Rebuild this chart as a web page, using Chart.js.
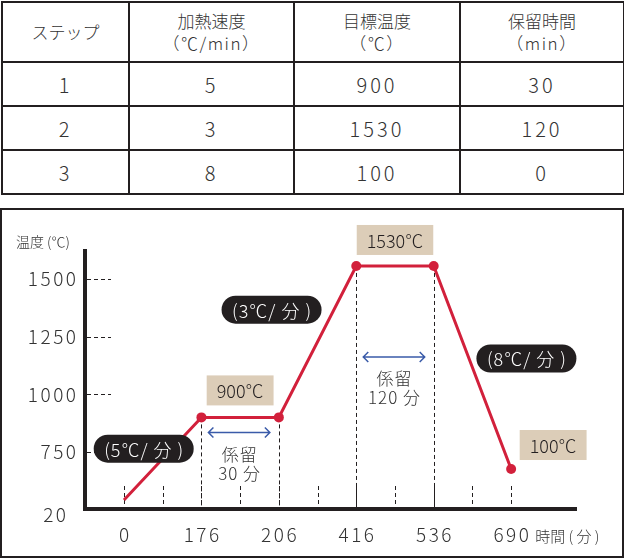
<!DOCTYPE html>
<html lang="ja">
<head>
<meta charset="utf-8">
<script src="https://cdn.jsdelivr.net/npm/chart.js@4.4.1/dist/chart.umd.min.js"></script>
<style>
  body { margin: 0; background: #fff; font-family: 'Noto Sans CJK JP', 'Noto Sans', sans-serif; font-weight: 300; color: #333; }
  #steps { position: absolute; left: 1px; top: 1px; border-collapse: collapse; table-layout: fixed; width: 622px; }
  #steps td { border: 2px solid #231f20; text-align: center; padding: 0; }
  #steps tr.head td { height: 58px; font-size: 17px; line-height: 22px; }
  #steps tr.head span { letter-spacing: 1.5px; }
  #steps tr.row td { height: 42px; font-size: 20px; letter-spacing: 3px; }
  #box { position: absolute; left: 0; top: 208px; width: 620px; height: 346px; border: 2px solid #231f20; }
  #wrap { position: absolute; left: 0; top: 200px; width: 624px; height: 358px; }
</style>
</head>
<body>
<table id="steps">
  <colgroup><col style="width:127px"><col style="width:165px"><col style="width:166px"><col style="width:164px"></colgroup>
  <tbody id="steps-body"></tbody>
</table>
<div id="box"></div>
<div id="wrap"><canvas id="canvas" width="624" height="358"></canvas></div>
<script>
'use strict';

// table data
var headers = [['ステップ'], ['加熱速度', '（℃/min）'], ['目標温度', '（℃）'], ['保留時間', '（min）']];
var stepNo = [1, 2, 3];
var heatRate = [5, 3, 8];
var targetTemp = [900, 1530, 100];
var holdTime = [30, 120, 0];

// chart data
var times = [0, 176, 206, 416, 536, 690];
var temps = [20, 900, 900, 1530, 1530, 100];
var yTicks = [20, 750, 1000, 1250, 1500];
var rateLabels = ['(5℃/ 分 )', '(3℃/ 分 )', '(8℃/ 分 )'];
var tempLabels = ['900℃', '1530℃', '100℃'];
var holdLabels = ['30 分', '120 分'];

var body = document.getElementById('steps-body');
var tr = document.createElement('tr');
tr.className = 'head';
headers.forEach(function (h) {
  var td = document.createElement('td');
  td.appendChild(document.createTextNode(h[0]));
  if (h[1]) {
    td.appendChild(document.createElement('br'));
    var sp = document.createElement('span');
    sp.textContent = h[1];
    td.appendChild(sp);
  }
  tr.appendChild(td);
});
body.appendChild(tr);
for (var r = 0; r < stepNo.length; r++) {
  tr = document.createElement('tr');
  tr.className = 'row';
  [stepNo[r], heatRate[r], targetTemp[r], holdTime[r]].forEach(function (v) {
    var td = document.createElement('td');
    td.textContent = v;
    tr.appendChild(td);
  });
  body.appendChild(tr);
}

// piecewise scale: the drawing is schematic, not to scale
function toFrac(stops, fracs, v) {
  var i = 0;
  while (i < stops.length - 2 && v > stops[i + 1]) i++;
  return fracs[i] + (v - stops[i]) / (stops[i + 1] - stops[i]) * (fracs[i + 1] - fracs[i]);
}
function fromFrac(stops, fracs, f) {
  var i = 0;
  while (i < fracs.length - 2 && f > fracs[i + 1]) i++;
  return stops[i] + (f - fracs[i]) / (fracs[i + 1] - fracs[i]) * (stops[i + 1] - stops[i]);
}

class StepScale extends Chart.LinearScale {
  getPixelForValue(value) {
    return this.getPixelForDecimal(toFrac(this.options.stops, this.options.fracs, value));
  }
  getValueForPixel(pixel) {
    return fromFrac(this.options.stops, this.options.fracs, this.getDecimalForPixel(pixel));
  }
}
StepScale.id = 'step';
StepScale.defaults = Chart.LinearScale.defaults;
Chart.register(StepScale);

var INK = '#231f20';
var TEXT = '#333';
var RED = '#d2203b';
var BLUE = '#3a5ba9';
var BEIGE = '#dccdb8';
var FONT = '"Noto Sans CJK JP", "Noto Sans", sans-serif';

// label offsets from the segment middle / hold middle
var pillOffset = [[-19, -10], [-46, -32], [54, -9]];
var tempOffset = [[0, -27], [0, -26], [42, -24]];
var arrowDrop = [15, 91];

function txt(ctx, s, x, y, size, color, align, spacing) {
  ctx.font = '300 ' + size + 'px ' + FONT;
  ctx.fillStyle = color;
  ctx.textAlign = align || 'center';
  ctx.textBaseline = 'middle';
  ctx.letterSpacing = (spacing || 0) + 'px';
  var shift = align === 'right' ? spacing || 0 : (spacing || 0) / 2;
  ctx.fillText(s, x + (align === 'left' ? 0 : shift), y);
  ctx.letterSpacing = '0px';
}

function holdPairs() {
  var pairs = [];
  for (var i = 0; i < temps.length - 1; i++) {
    if (temps[i] === temps[i + 1]) pairs.push(i);
  }
  return pairs;
}

var overlay = {
  id: 'overlay',
  beforeDatasetsDraw: function (chart) {
    var ctx = chart.ctx, x = chart.scales.x, y = chart.scales.y, area = chart.chartArea;
    ctx.save();
    ctx.strokeStyle = INK;
    ctx.lineWidth = 1;
    ctx.setLineDash([4, 3]);
    function line(x1, y1, x2, y2) {
      ctx.beginPath(); ctx.moveTo(x1, y1); ctx.lineTo(x2, y2); ctx.stroke();
    }
    yTicks.slice(1).forEach(function (v) {
      var py = Math.round(y.getPixelForValue(v)) + 0.5;
      line(area.left + 2, py, area.left + 26, py);
    });
    for (var i = 0; i < times.length; i++) {
      var px = Math.round(x.getPixelForValue(times[i])) + 0.5;
      line(px, area.bottom - 23, px, area.bottom - 2);
      if (i < times.length - 1) {
        var mx = Math.round(x.getPixelForValue((times[i] + times[i + 1]) / 2)) + 0.5;
        line(mx, area.bottom - 23, mx, area.bottom - 2);
      }
    }
    holdPairs().forEach(function (i) {
      [i, i + 1].forEach(function (k) {
        var px = Math.round(x.getPixelForValue(times[k])) + 0.5;
        line(px, y.getPixelForValue(temps[k]), px, area.bottom - 2);
      });
    });
    ctx.restore();
  },
  afterDatasetsDraw: function (chart) {
    var ctx = chart.ctx, x = chart.scales.x, y = chart.scales.y, area = chart.chartArea;
    ctx.save();

    // axis titles and tick labels
    txt(ctx, '温度 (℃)', 16, area.top - 9, 14, TEXT, 'left', 0);
    yTicks.forEach(function (v, i) {
      if (i === 0) {
        txt(ctx, String(v), area.left - 19, area.bottom + 6, 19, TEXT, 'right', 2.5);
      } else {
        txt(ctx, String(v), area.left - 9, y.getPixelForValue(v), 19, TEXT, 'right', 2.5);
      }
    });
    times.forEach(function (t) {
      txt(ctx, String(t), x.getPixelForValue(t), area.bottom + 26, 19, TEXT, 'center', 2.5);
    });
    var lastX = x.getPixelForValue(times[times.length - 1]);
    txt(ctx, '時間 ( 分 )', lastX + 24, area.bottom + 27, 15, TEXT, 'left', 0);

    // hold arrows and texts
    holdPairs().forEach(function (i, n) {
      var x1 = x.getPixelForValue(times[i]) + 7;
      var x2 = x.getPixelForValue(times[i + 1]) - 9;
      var ay = y.getPixelForValue(temps[i]) + arrowDrop[n];
      ctx.strokeStyle = BLUE;
      ctx.lineWidth = 1.5;
      ctx.beginPath();
      ctx.moveTo(x1 + 5, ay - 5); ctx.lineTo(x1, ay); ctx.lineTo(x1 + 5, ay + 5);
      ctx.moveTo(x1, ay); ctx.lineTo(x2, ay);
      ctx.moveTo(x2 - 5, ay - 5); ctx.lineTo(x2, ay); ctx.lineTo(x2 - 5, ay + 5);
      ctx.stroke();
      var cx = (x1 + x2) / 2;
      txt(ctx, '係留', cx, ay + 22, 17, TEXT, 'center', 1);
      txt(ctx, holdLabels[n], cx, ay + 41, 17, TEXT, 'center', 1);
    });

    // temperature boxes
    var anchors = [];
    holdPairs().forEach(function (i) {
      anchors.push([(x.getPixelForValue(times[i]) + x.getPixelForValue(times[i + 1])) / 2, y.getPixelForValue(temps[i])]);
    });
    var last = temps.length - 1;
    anchors.push([x.getPixelForValue(times[last]), y.getPixelForValue(temps[last])]);
    anchors.forEach(function (a, n) {
      ctx.font = '300 18px ' + FONT;
      var w = ctx.measureText(tempLabels[n]).width + 20;
      var cx = a[0] + tempOffset[n][0], cy = a[1] + tempOffset[n][1];
      ctx.fillStyle = BEIGE;
      ctx.fillRect(cx - w / 2, cy - 15, w, 30);
      txt(ctx, tempLabels[n], cx, cy + 1, 18, INK, 'center', 0);
    });

    // heating rate pills on the sloped segments
    var slopes = [];
    for (var i = 0; i < temps.length - 1; i++) {
      if (temps[i] !== temps[i + 1]) slopes.push(i);
    }
    slopes.forEach(function (i, n) {
      var mx = (x.getPixelForValue(times[i]) + x.getPixelForValue(times[i + 1])) / 2;
      var my = (y.getPixelForValue(temps[i]) + y.getPixelForValue(temps[i + 1])) / 2;
      var cx = mx + pillOffset[n][0], cy = my + pillOffset[n][1];
      ctx.fillStyle = INK;
      ctx.beginPath();
      ctx.roundRect(cx - 50, cy - 14, 100, 28, 14);
      ctx.fill();
      txt(ctx, rateLabels[n], cx, cy + 1, 18, '#fff', 'center', 1);
    });
    ctx.restore();
  }
};

var xFracs = times.map(function (t, i) { return 0.0794 + i * 0.1577; });

var chart = new Chart(document.getElementById('canvas'), {
  type: 'line',
  data: {
    datasets: [{
      data: times.map(function (t, i) { return { x: t, y: temps[i] }; }),
      borderColor: RED,
      borderWidth: 3,
      pointRadius: temps.map(function (t, i) { return i === 0 ? 0 : 5; }),
      pointBackgroundColor: RED,
      pointBorderWidth: 0,
      tension: 0,
      clip: false
    }]
  },
  plugins: [overlay],
  options: {
    responsive: false,
    animation: false,
    layout: { padding: { left: 85, right: 48, top: 51, bottom: 49 } },
    plugins: { legend: { display: false }, tooltip: { enabled: false } },
    scales: {
      x: {
        type: 'step',
        stops: times,
        fracs: xFracs,
        min: -200,
        max: 900,
        ticks: { display: false },
        grid: { drawOnChartArea: false, drawTicks: false, color: 'rgba(0,0,0,0)' },
        border: { display: true, color: INK, width: 4 },
        afterFit: function (s) { s.height = 0; }
      },
      y: {
        type: 'step',
        stops: [20, 100, 750, 1500, 1530],
        fracs: [0.035, 0.155, 0.221, 0.891, 0.942],
        min: 0,
        max: 1600,
        ticks: { display: false },
        grid: { drawOnChartArea: false, drawTicks: false, color: 'rgba(0,0,0,0)' },
        border: { display: true, color: INK, width: 4 },
        afterFit: function (s) { s.width = 0; }
      }
    }
  }
});
</script>
</body>
</html>
